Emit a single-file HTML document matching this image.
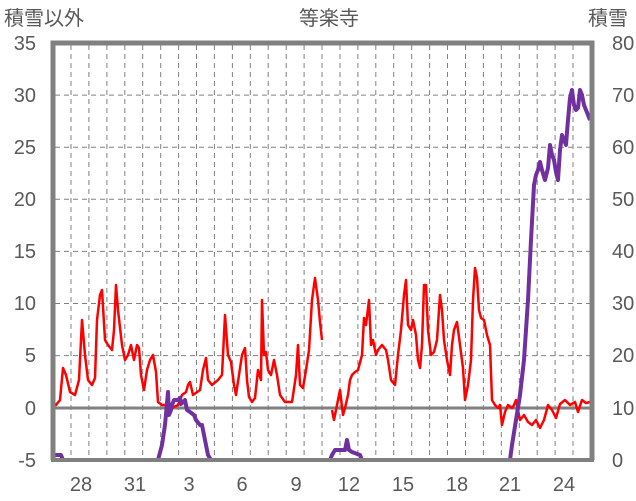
<!DOCTYPE html><html><head><meta charset="utf-8"><style>body{margin:0;background:#fff}svg{display:block}text{font-family:"Liberation Sans","Noto Sans CJK JP",sans-serif;fill:#595959}</style></head><body>
<svg width="636" height="501" viewBox="0 0 636 501">
<g stroke="#808080" stroke-width="1" stroke-dasharray="5,4">
<line x1="71" y1="45" x2="71" y2="458"/><line x1="88.9" y1="45" x2="88.9" y2="458"/><line x1="106.9" y1="45" x2="106.9" y2="458"/><line x1="124.8" y1="45" x2="124.8" y2="458"/><line x1="142.7" y1="45" x2="142.7" y2="458"/><line x1="160.7" y1="45" x2="160.7" y2="458"/><line x1="178.6" y1="45" x2="178.6" y2="458"/><line x1="196.5" y1="45" x2="196.5" y2="458"/><line x1="214.4" y1="45" x2="214.4" y2="458"/><line x1="232.4" y1="45" x2="232.4" y2="458"/><line x1="250.3" y1="45" x2="250.3" y2="458"/><line x1="268.2" y1="45" x2="268.2" y2="458"/><line x1="286.2" y1="45" x2="286.2" y2="458"/><line x1="304.1" y1="45" x2="304.1" y2="458"/><line x1="322" y1="45" x2="322" y2="458"/><line x1="340" y1="45" x2="340" y2="458"/><line x1="357.9" y1="45" x2="357.9" y2="458"/><line x1="375.8" y1="45" x2="375.8" y2="458"/><line x1="393.7" y1="45" x2="393.7" y2="458"/><line x1="411.7" y1="45" x2="411.7" y2="458"/><line x1="429.6" y1="45" x2="429.6" y2="458"/><line x1="447.5" y1="45" x2="447.5" y2="458"/><line x1="465.5" y1="45" x2="465.5" y2="458"/><line x1="483.4" y1="45" x2="483.4" y2="458"/><line x1="501.3" y1="45" x2="501.3" y2="458"/><line x1="519.3" y1="45" x2="519.3" y2="458"/><line x1="537.2" y1="45" x2="537.2" y2="458"/><line x1="555.1" y1="45" x2="555.1" y2="458"/><line x1="573" y1="45" x2="573" y2="458"/>
<line x1="55" y1="95.1" x2="590" y2="95.1"/><line x1="55" y1="147.2" x2="590" y2="147.2"/><line x1="55" y1="199.3" x2="590" y2="199.3"/><line x1="55" y1="251.4" x2="590" y2="251.4"/><line x1="55" y1="303.5" x2="590" y2="303.5"/><line x1="55" y1="355.6" x2="590" y2="355.6"/>
</g>
<line x1="53" y1="408" x2="592" y2="408" stroke="#808080" stroke-width="3"/>
<polyline fill="none" stroke="#ff0000" stroke-width="2.5" stroke-linejoin="round" points="53,402 56,405 60,400 63,368 66,375 70,392 75,395 79,380 82,320 85,355 88,380 92,385 95,378 97,320 100,295 102,290 105,340 108,345 112,350 114,330 116,285 118,310 122,345 125,360 128,355 131,345 134,360 137,345 139,348 141,375 144,390 147,370 150,360 153,355 156,372 158,402 162,405 168,405 172,408 178,405 182,395 186,392 188,385 190,382 193,395 200,390 203,370 206,358 208,380 212,385 218,380 222,375 225,315 228,355 231,362 234,385 236,395 239,375 242,355 245,348 247,380 249,397 252,402 255,398 258,370 261,380 262,300 264,355 266,352 268,370 271,375 274,360 277,375 280,395 285,402 292,402 296,375 298,345 300,385 303,388 306,370 309,350 312,300 315,278 318,300 320,322 322,340"/>
<polyline fill="none" stroke="#ff0000" stroke-width="2.5" stroke-linejoin="round" points="332,410 334,420 337,405 340,390 343,415 345,408 348,395 350,380 352,375 355,372 358,370 362,355 364,318 366,325 369,300 371,345 373,340 376,355 378,350 382,345 386,350 388,360 391,380 395,385 398,355 401,330 404,295 406,280 408,325 411,330 413,320 416,335 418,360 420,368 422,345 424,285 426,285 428,330 431,355 434,352 437,340 440,295 442,310 444,340 447,360 450,375 452,345 454,330 457,322 460,345 463,368 465,400 468,385 471,360 473,300 475,268 477,278 479,310 481,318 484,320 487,335 490,345 492,400 495,405 498,408 500,405 502,425 505,412 508,405 512,408 514,405 516,400 518,410 520,420 524,415 528,422 532,425 536,420 540,428 544,420 548,405 552,410 556,418 560,404 565,400 570,405 575,402 578,412 582,400 586,403 590,402"/>
<polyline fill="none" stroke="#7030a0" stroke-width="4" stroke-linejoin="round" points="53,460 54,455 61,455 63,460 158,460 162,445 165,425 168,392 169,415 171,410 172,405 174,400 178,400 180,398 181,404 185,400 187,410 190,412 194,415 196,420 200,425 202,425 205,440 208,455 211,460 330,460 332,455 335,450 345,450 347,440 349,450 352,452 360,455 362,460 510,460 512,445 516,420 520,395 524,360 528,300 531,240 534,185 536,175 538,170 540,162 542,170 545,180 548,168 550,145 552,155 554,160 556,172 558,180 560,150 562,135 564,140 566,145 568,120 570,98 572,90 574,105 576,110 578,108 580,90 582,95 584,105 586,110 588,115 590,120"/>
<path d="M53,460 V43 H592 V460" fill="none" stroke="#808080" stroke-width="5"/>
<line x1="51" y1="460" x2="594" y2="460" stroke="#808080" stroke-width="4"/>
<g font-size="20" text-anchor="end">
<text x="36" y="50">35</text><text x="36" y="102">30</text><text x="36" y="154">25</text><text x="36" y="206">20</text><text x="36" y="258">15</text><text x="36" y="310">10</text><text x="36" y="362">5</text><text x="36" y="415">0</text><text x="36" y="467">-5</text>
</g>
<g font-size="20" text-anchor="start">
<text x="612" y="50">80</text><text x="612" y="102">70</text><text x="612" y="154">60</text><text x="612" y="206">50</text><text x="612" y="258">40</text><text x="612" y="310">30</text><text x="612" y="362">20</text><text x="612" y="415">10</text><text x="612" y="467">0</text>
</g>
<g font-size="20" text-anchor="middle">
<text x="81" y="491">28</text><text x="135" y="491">31</text><text x="189" y="491">3</text><text x="242" y="491">6</text><text x="296" y="491">9</text><text x="349" y="491">12</text><text x="403" y="491">15</text><text x="457" y="491">18</text><text x="510" y="491">21</text><text x="564" y="491">24</text>
<text x="329" y="25">等楽寺</text>
</g>
<text x="4" y="25" font-size="20">積雪以外</text>
<text x="588" y="25" font-size="20">積雪</text>
</svg></body></html>
